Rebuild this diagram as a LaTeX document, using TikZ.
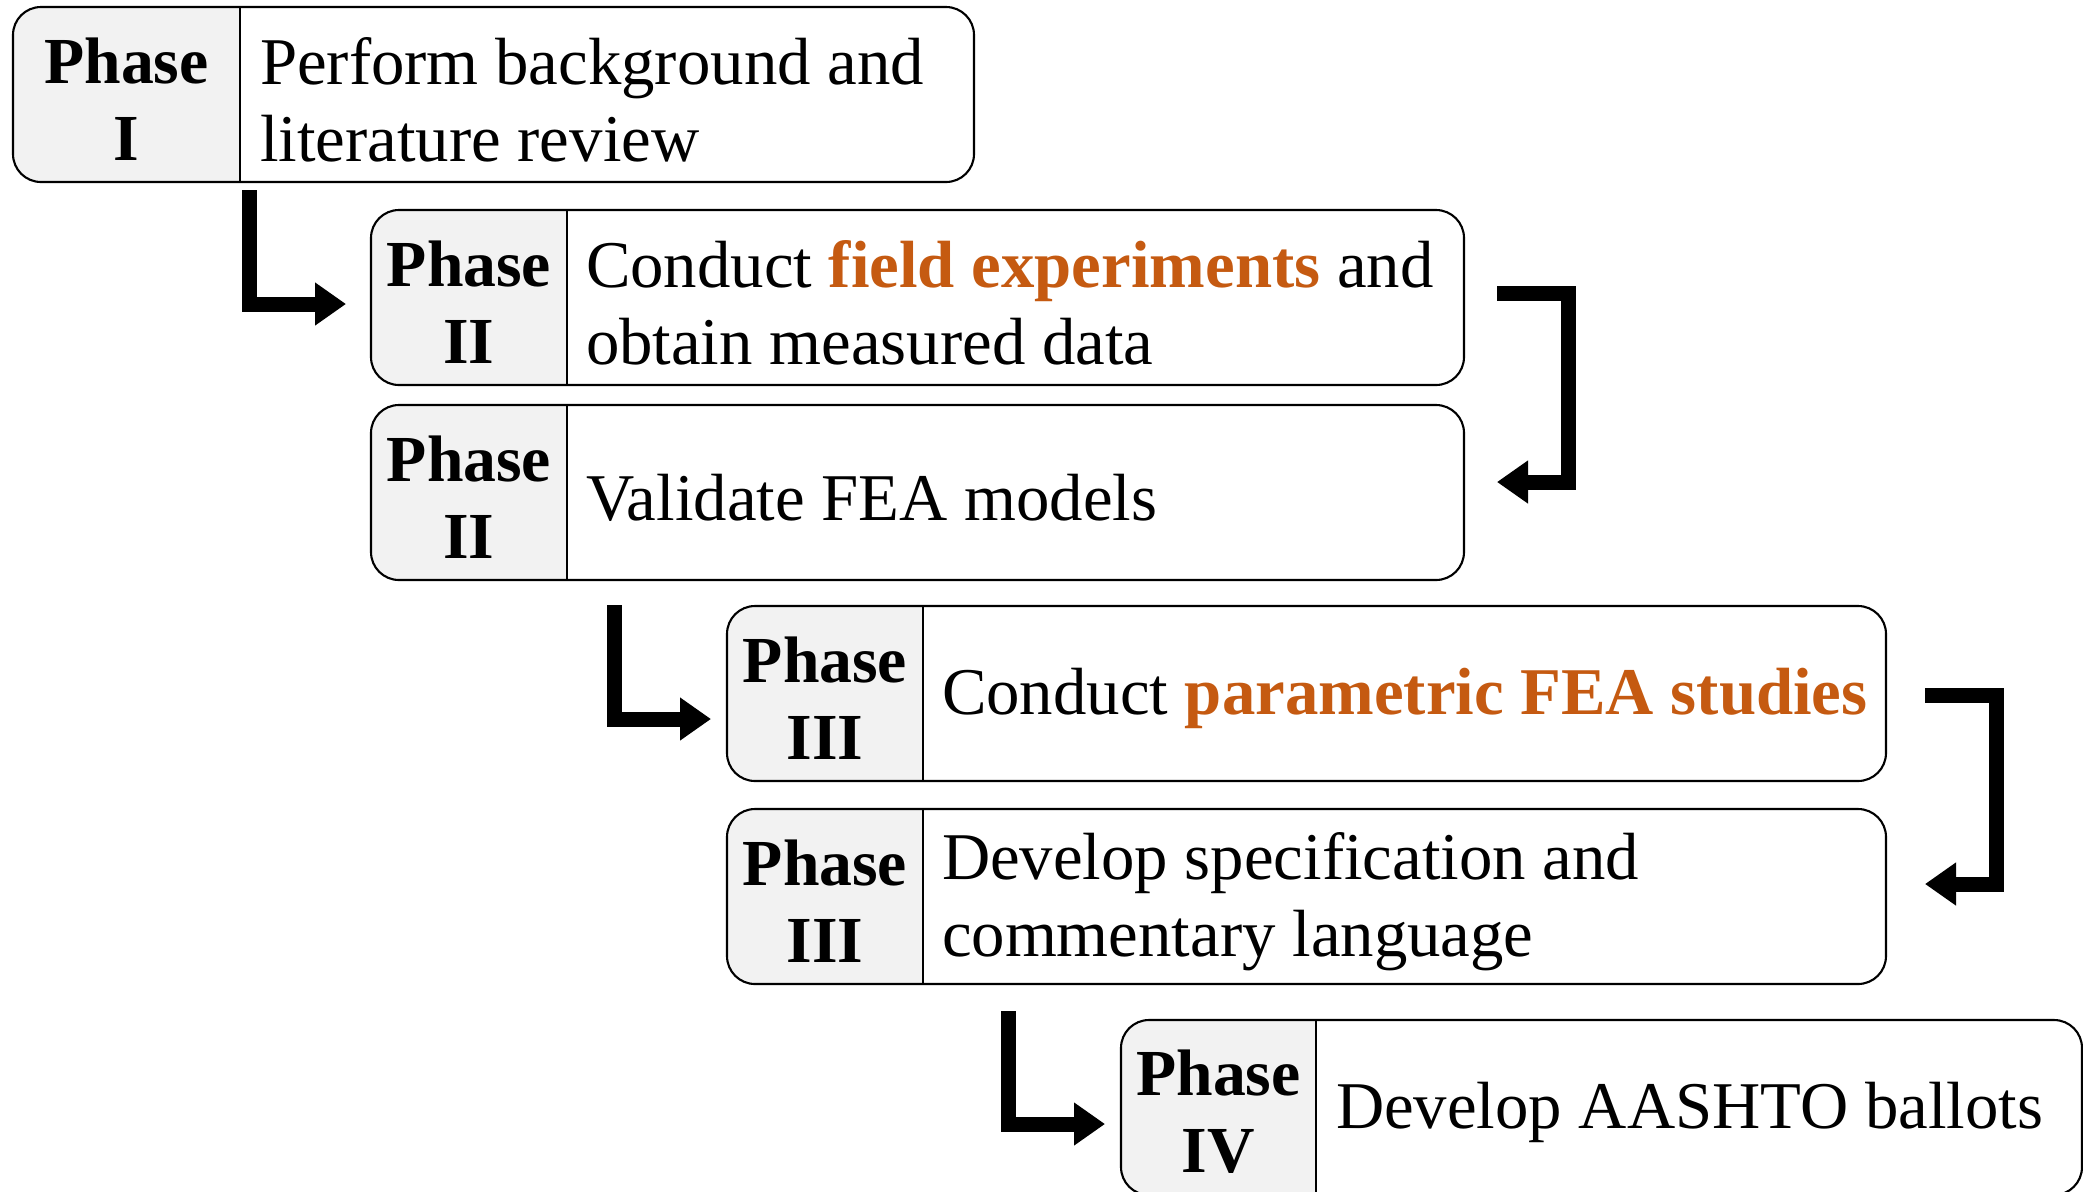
\documentclass[tikz,border=0pt]{standalone}
\usepackage{fontspec}
\setmainfont{Liberation Serif}
\usetikzlibrary{arrows.meta}
\definecolor{cellgray}{HTML}{F2F2F2}
\definecolor{fieldorange}{HTML}{C55A11}

\begin{document}
\begin{tikzpicture}
\tikzset{ >={Triangle[length=0.31cm, width=0.41cm]}, inner sep=0pt, outer sep=0pt,
  phase/.style 2 args={draw, line width=0.6pt, rounded corners=0.28cm, anchor=north west,
    minimum width=#1, minimum height=1.75cm,
    path picture={
      \fill [cellgray, sharp corners] (path picture bounding box.south west) rectangle ([xshift=#2]path picture bounding box.north west);
      \draw [line width=0.6pt, sharp corners] ([xshift=#2]path picture bounding box.south west) -- ([xshift=#2]path picture bounding box.north west);
    }},
  tag/.style={align=center, yshift=-0.045cm, font={\fontsize{18.7}{21.9}\selectfont\bfseries}},
  task/.style={align=left, anchor=west, yshift=-0.05cm, font={\fontsize{19}{21.9}\selectfont}},
  flow/.style={->, line width=0.15cm},
}

\useasboundingbox (0,0) rectangle (20.83,-11.91);
%\draw [lightgray, dashed](0,0) grid (21,-12);

\node [phase={9.61cm}{2.27cm}]  (b1) at (0.13,-0.07)  {};
\node [phase={10.93cm}{1.96cm}] (b2) at (3.71,-2.10)  {};
\node [phase={10.93cm}{1.96cm}] (b3) at (3.71,-4.05)  {};
\node [phase={11.59cm}{1.96cm}] (b4) at (7.27,-6.06)  {};
\node [phase={11.59cm}{1.96cm}] (b5) at (7.27,-8.09)  {};
\node [phase={9.61cm}{1.95cm}]  (b6) at (11.21,-10.20) {};

\node [tag] (t1) at ([xshift=1.135cm]b1.west) {Phase\\I};
\node [tag] (t2) at ([xshift=0.98cm]b2.west)  {Phase\\II};
\node [tag] (t3) at ([xshift=0.98cm]b3.west)  {Phase\\II};
\node [tag] (t4) at ([xshift=0.98cm]b4.west)  {Phase\\III};
\node [tag] (t5) at ([xshift=0.98cm]b5.west)  {Phase\\III};
\node [tag] (t6) at ([xshift=0.975cm]b6.west) {Phase\\IV};

\node [task] (d1) at ([xshift=2.47cm]b1.west) {Perform background and\\literature review};
\node [task] (d2) at ([xshift=2.15cm]b2.west) {Conduct \textcolor{fieldorange}{\textbf{field experiments}} and\\obtain measured data};
\node [task] (d3) at ([xshift=2.15cm]b3.west) {Validate FEA models};
\node [task] (d4) at ([xshift=2.15cm]b4.west) {Conduct \textcolor{fieldorange}{\textbf{parametric FEA studies}}};
\node [task] (d5) at ([xshift=2.15cm]b5.west) {Develop specification and\\commentary language};
\node [task] (d6) at ([xshift=2.15cm]b6.west) {Develop AASHTO ballots};

\coordinate (a1) at (2.49,-1.90);
\coordinate (a1e) at (3.46,-3.04);
\coordinate (a2) at (14.97,-2.93);
\coordinate (a2e) at (14.97,-4.82);
\coordinate (a3) at (6.145,-6.05);
\coordinate (a3e) at (7.11,-7.19);
\coordinate (a4) at (19.25,-6.95);
\coordinate (a4e) at (19.25,-8.84);
\coordinate (a5) at (10.08,-10.11);
\coordinate (a5e) at (11.05,-11.24);

\draw [flow] (a1) |- (a1e);
\draw [flow] (a2) -- ++(0.71,0) |- (a2e);
\draw [flow] (a3) |- (a3e);
\draw [flow] (a4) -- ++(0.71,0) |- (a4e);
\draw [flow] (a5) |- (a5e);

\end{tikzpicture}
\end{document}
